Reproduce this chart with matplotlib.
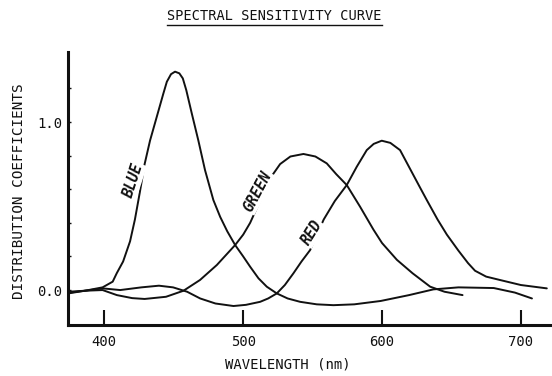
import matplotlib.pyplot as plt
from matplotlib.lines import Line2D

# wavelengths (nm) and distribution coefficients
blue_wl = [374, 386, 398.7, 406, 408.9, 413.5, 418.5, 422, 425.5, 429, 432.9, 437.7,
           442.5, 445, 448, 450.9, 454, 456.5, 459, 463, 467.7, 472.5, 478.5,
           483.4, 488.5, 494.2, 500, 505, 511, 517, 524.2, 532, 541, 553, 565, 580,
           599, 619.5, 637, 655, 680.5, 695.7, 708]
blue_val = [-0.016, -0.004, 0.016, 0.05, 0.10, 0.17, 0.29, 0.42, 0.58, 0.75, 0.89, 1.03,
            1.17, 1.24, 1.285, 1.30, 1.29, 1.26, 1.19, 1.05, 0.89, 0.714, 0.536,
            0.436, 0.35, 0.268, 0.2, 0.139, 0.07, 0.02, -0.02, -0.05, -0.07, -0.085,
            -0.09, -0.085, -0.065, -0.03, 0.004, 0.016, 0.012, -0.015, -0.05]

green_wl = [374, 386, 398.7, 409, 420, 429, 444.4, 457, 468.9, 481, 494.2, 500, 505,
            511, 519.4, 526.6, 534, 543.4, 552, 560.2, 567, 574.6, 584.2, 593.8, 600,
            610.7, 622, 634.7, 645, 658]
green_val = [-0.01, -0.004, 0.0, -0.03, -0.048, -0.053, -0.04, -0.004, 0.06, 0.149,
             0.268, 0.33, 0.40, 0.51, 0.665, 0.75, 0.795, 0.81, 0.795, 0.754, 0.69,
             0.625, 0.496, 0.36, 0.28, 0.18, 0.1, 0.02, -0.01, -0.03]

red_wl = [374, 386, 398.7, 411.4, 426.6, 439.3, 449.5, 459.6, 469, 480, 493, 502,
          512.2, 518, 524.2, 530, 536.2, 542, 548.2, 558, 566, 574.6, 581.8, 589, 594,
          599.8, 606, 613, 619, 627.4, 632.3, 640, 646.7, 655, 662, 667, 675, 684.9,
          700, 718.7]
red_val = [-0.02, -0.004, 0.01, 0.0, 0.016, 0.026, 0.016, -0.01, -0.05, -0.08, -0.095,
           -0.088, -0.07, -0.05, -0.02, 0.03, 0.1, 0.17, 0.238, 0.42, 0.53, 0.625,
           0.734, 0.833, 0.87, 0.889, 0.876, 0.833, 0.74, 0.61, 0.535, 0.42, 0.33,
           0.235, 0.16, 0.115, 0.08, 0.06, 0.03, 0.01]

x_ticks = [400, 500, 600, 700]
y_labeled = [0.0, 1.0]
y_minor = [0.2, 0.4, 0.6, 0.8, 1.2]

mono = 'DejaVu Sans Mono'
W, H = 552, 376

fig = plt.figure(figsize=(5.52, 3.76), dpi=100)
ax = fig.add_axes([68 / W, 1 - 325 / H, 482 / W, 273 / H])

for wl, val in [(blue_wl, blue_val), (green_wl, green_val), (red_wl, red_val)]:
    ax.plot(wl, val, color='#111111', lw=1.4, solid_capstyle='round',
            solid_joinstyle='round')

ax.set_xlim(373.8, 721)
ax.set_ylim(-0.208, 1.417)

for s in ['top', 'right']:
    ax.spines[s].set_visible(False)
for s in ['left', 'bottom']:
    ax.spines[s].set_linewidth(2.2)
    ax.spines[s].set_color('#111111')

ax.set_xticks(x_ticks)
ax.set_xticklabels([str(t) for t in x_ticks], fontfamily=mono, fontsize=10)
ax.tick_params(axis='x', direction='in', length=11, width=1.5, pad=7, colors='#111111')

ax.set_yticks(y_labeled)
ax.set_yticklabels(['%.1f' % t for t in y_labeled], fontfamily=mono, fontsize=10)
ax.set_yticks(y_minor, minor=True)
ax.tick_params(axis='y', which='both', direction='in', length=2.5, width=1, pad=4,
               colors='#111111')

# curve labels written along the lines
lab = dict(fontfamily=mono, fontsize=10.5, fontweight='bold', fontstyle='italic',
           ha='center', va='center', color='#111111',
           bbox=dict(facecolor='white', edgecolor='none', pad=0.5))
ax.text(421.0, 0.65, 'BLUE', rotation=72, **lab)
ax.text(510.4, 0.585, 'GREEN', rotation=62, **lab)
ax.text(549.5, 0.34, 'RED', rotation=58, **lab)

fig.text(274.5 / W, 1 - 16 / H, 'SPECTRAL SENSITIVITY CURVE', fontfamily=mono,
         fontsize=9.8, ha='center', va='center', color='#111111')
fig.add_artist(Line2D([167 / W, 382 / W], [1 - 25 / H, 1 - 25 / H], color='#111111', lw=1))

fig.text(19 / W, 1 - 191 / H, 'DISTRIBUTION COEFFICIENTS', fontfamily=mono,
         fontsize=10.3, rotation=90, ha='center', va='center', color='#111111')
fig.text(288 / W, 1 - 364 / H, 'WAVELENGTH (nm)', fontfamily=mono,
         fontsize=10, ha='center', va='center', color='#111111')

fig.savefig('out.png', dpi=100)
